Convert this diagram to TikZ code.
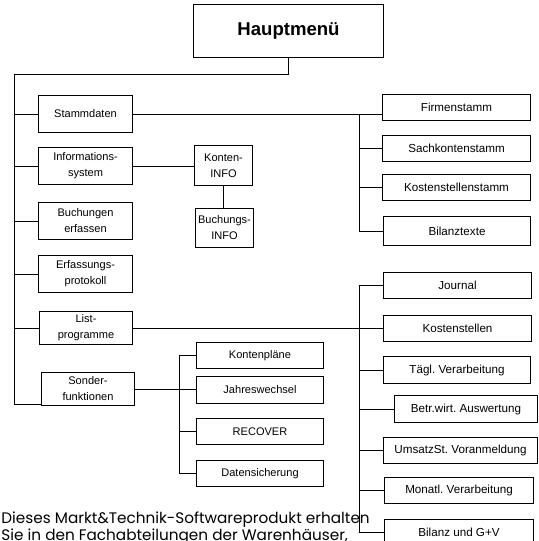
\documentclass[tikz,border=0pt]{standalone}
\usepackage{fontspec}
\setmainfont{Liberation Sans}
\newfontfamily\blurbfont{Poppins}

\begin{document}
\begin{tikzpicture}[scale=0.35, line width=0.9pt,
        menubox/.style={draw, inner sep=0pt, align=center, minimum height=26pt,
            font=\fontsize{11}{16}\selectfont\frenchspacing},
        leftbox/.style={menubox, minimum width=93pt, minimum height=36pt},
        listbox/.style={menubox, minimum width=147pt, font=\fontsize{11.6}{16}\selectfont\frenchspacing},
        subbox/.style={menubox, minimum width=126pt}]
            \useasboundingbox (0,0) rectangle (53.9,-54.1);
            % top
            \node [draw, minimum width=189pt, minimum height=52pt,
                font=\fontsize{18.5}{22}\selectfont\bfseries] (haupt) at (28.85,-3.1) {Hauptmenü};
            % left column
            \node [leftbox] (stamm) at (8.55,-11.4) {Stammdaten};
            \node [leftbox] (info) at (8.55,-16.6) {Informations-\\system};
            \node [leftbox] (bucherf) at (8.55,-22.1) {Buchungen\\erfassen};
            \node [leftbox] (erfprot) at (8.55,-27.4) {Erfassungs-\\protokoll};
            \node [leftbox, minimum height=33pt] (listprog) at (8.6,-32.8) {List-\\programme};
            \node [leftbox, minimum height=32pt] (sonder) at (8.8,-38.9) {Sonder-\\funktionen};
            % info
            \node [menubox, minimum width=57pt, minimum height=39pt] (konten) at (22.35,-16.55) {Konten-\\INFO};
            \node [menubox, minimum width=57pt, minimum height=38pt] (buchinfo) at (22.45,-22.8) {Buchungs-\\INFO};
            % stammdaten
            \node [listbox] (firmen) at (45.65,-10.75) {Firmenstamm};
            \node [listbox] (sach) at (45.65,-14.85) {Sachkontenstamm};
            \node [listbox] (kstamm) at (45.65,-18.75) {Kostenstellenstamm};
            \node [listbox, minimum height=28pt] (bilanzt) at (45.7,-23.1) {Bilanztexte};
            % listprogramme
            \node [listbox] (journal) at (45.75,-28.55) {Journal};
            \node [listbox] (kosten) at (45.75,-32.85) {Kostenstellen};
            \node [listbox] (taegl) at (45.7,-37.0) {Tägl. Verarbeitung};
            \node [listbox, minimum width=142pt] (betr) at (46.6,-40.9) {Betr.wirt. Auswertung};
            \node [listbox, minimum width=153pt] (umsatz) at (46.05,-45.0) {UmsatzSt. Voranmeldung};
            \node [listbox, minimum width=148pt] (monatl) at (45.9,-49.0) {Monatl. Verarbeitung};
            \node [listbox, minimum width=148pt] (bilanzgv) at (45.9,-53.2) {Bilanz und G+V};
            % sonderfunktionen
            \node [subbox] (kplaene) at (26.0,-35.55) {Kontenpläne};
            \node [subbox] (jahr) at (26.0,-39.0) {Jahreswechsel};
            \node [subbox] (recover) at (26.0,-43.15) {RECOVER};
            \node [subbox] (dsich) at (26.0,-47.35) {Datensicherung};
            % text
            \node [anchor=base west, align=left, inner sep=0pt,
                font=\blurbfont\fontsize{15.2}{14.6}\selectfont] (blurb) at (0.1,-54.05)
                {Dieses Markt\&Technik-Softwareprodukt erhalten\\Sie in den Fachabteilungen der Warenhäuser,};
            % connectors
            \coordinate (spine) at (1.4,-7.4);
            \draw (haupt.south) |- (spine) |- ([yshift=2pt]sonder.south west);
            \foreach \n in {stamm,info,bucherf,erfprot,listprog}
                \draw (spine |- \n.west) -- (\n.west);
            \draw (stamm.east) -- (stamm.east -| firmen.west);
            \coordinate (ufork) at (35.9,-11.4);
            \draw (ufork) |- (bilanzt.west);
            \foreach \n in {sach,kstamm}
                \draw (ufork |- \n.west) -- (\n.west);
            \draw (info.east) -- (info.east -| konten.west);
            \draw (konten.south) -- (konten.south |- buchinfo.north);
            \draw (listprog.east) -- (listprog.east -| kosten.west);
            \coordinate (lfork) at (35.9,0);
            \draw (journal.west) -| (lfork |- bilanzgv.west) -- (bilanzgv.west);
            \foreach \n in {taegl,betr,umsatz,monatl}
                \draw (lfork |- \n.west) -- (\n.west);
            \draw (sonder.east) -- (sonder.east -| jahr.west);
            \coordinate (sfork) at (17.9,0);
            \draw (kplaene.west) -| (sfork |- dsich.west) -- (dsich.west);
            \draw (sfork |- recover.west) -- (recover.west);
        \end{tikzpicture}
\end{document}
